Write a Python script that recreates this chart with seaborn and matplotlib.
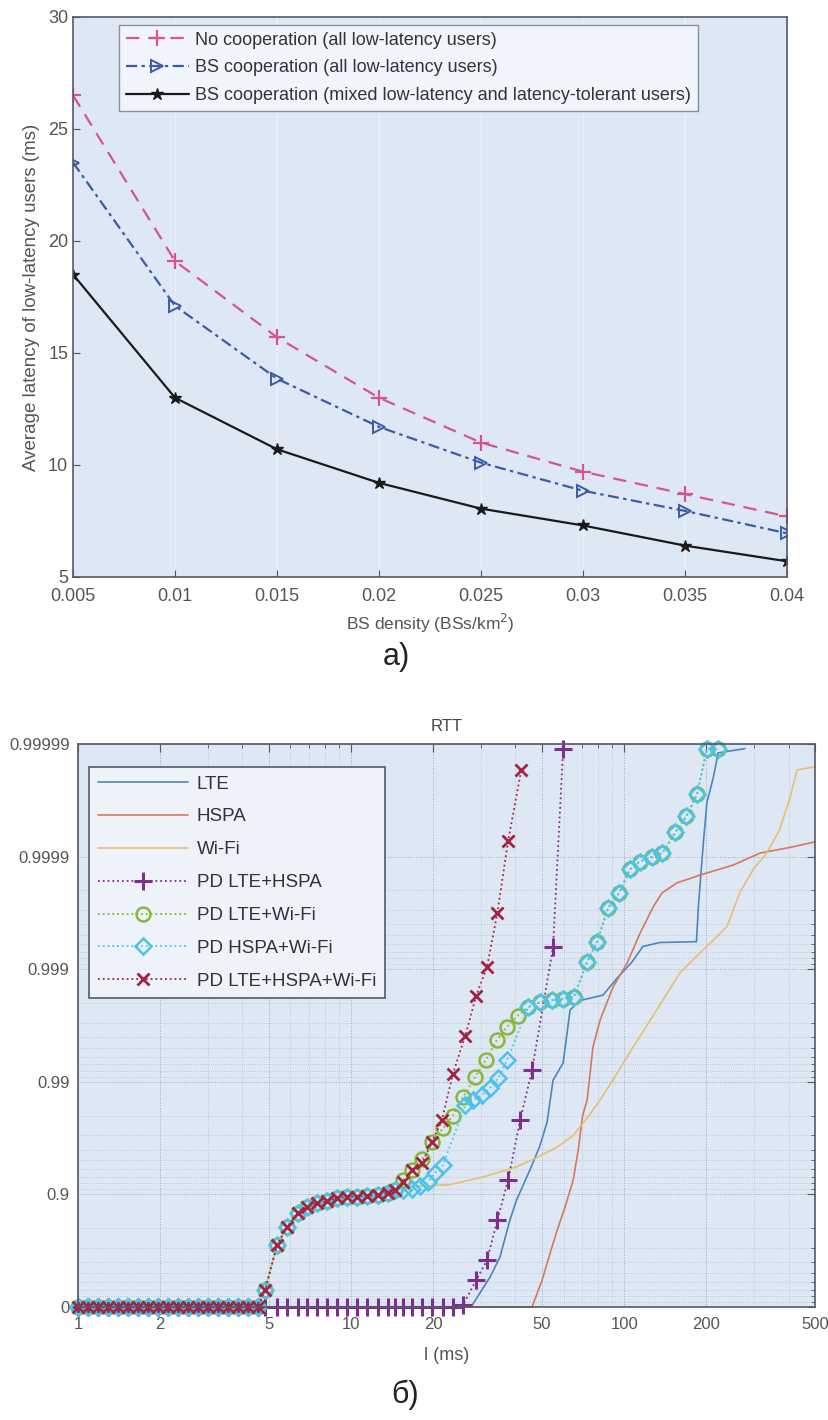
import numpy as np
import matplotlib
matplotlib.use("Agg")
import matplotlib.pyplot as plt
import seaborn as sns
from matplotlib.ticker import FixedLocator, FixedFormatter, NullFormatter

sns.set_style("white")
plt.rcParams['font.family'] = ['Liberation Sans', 'DejaVu Sans']

# ---------------- a) latency vs BS density ----------------
density = [0.005, 0.01, 0.015, 0.02, 0.025, 0.03, 0.035, 0.04]
no_coop = [26.5, 19.1, 15.7, 13.0, 11.0, 9.7, 8.7, 7.7]
bs_coop = [23.5, 17.1, 13.85, 11.7, 10.1, 8.85, 7.95, 6.95]
bs_coop_mixed = [18.5, 13.0, 10.7, 9.2, 8.05, 7.3, 6.4, 5.7]

# ---------------- б) RTT distribution ----------------
# marker positions along the bottom (all PD series at 0)
low_x = [1.0, 1.09, 1.18, 1.29, 1.4, 1.53, 1.66, 1.8, 1.96, 2.14, 2.32, 2.53,
         2.75, 3.0, 3.26, 3.54, 3.86, 4.2, 4.56]
low_p = [0.0] * len(low_x)
# common part of the Wi-Fi based curves
plateau_x = [4.84, 5.36, 5.83, 6.4, 6.9, 7.5, 8.17, 8.9, 9.7, 10.5, 11.4, 12.5, 13.6, 14.5]
plateau_p = [0.29, 0.72, 0.805, 0.854, 0.871, 0.88, 0.885, 0.892, 0.895, 0.895,
             0.897, 0.899, 0.903, 0.909]

lte_x = [1, 27.5, 32.3, 35.1, 38.2, 40.4, 45.2, 49.0, 52.2, 54.9, 59.8, 63.4, 69.0,
         83.7, 94.3, 107, 117, 135, 184, 187, 195, 201, 212, 221, 277]
lte_p = [0, 0, 0.459, 0.64, 0.832, 0.888, 0.9395, 0.9621, 0.977, 0.9903, 0.9932,
         0.9977, 0.9981, 0.9983, 0.9988, 0.99914, 0.99937, 0.99942, 0.99943, 0.99972,
         0.999924, 0.999967, 0.99998, 0.999988, 0.999989]

hspa_x = [1, 46.0, 50.1, 53.6, 56.9, 60.8, 65.1, 67.9, 70.5, 73.2, 76.9, 81.7, 91.1,
          102.6, 114.5, 127.7, 137.7, 156.4, 189.8, 250.8, 315, 415, 500]
hspa_p = [0, 0, 0.424, 0.669, 0.793, 0.871, 0.9255, 0.9597, 0.980, 0.9855, 0.99509,
          0.99718, 0.99856, 0.999119, 0.999523, 0.999719, 0.99979, 0.999829, 0.999854,
          0.999881, 0.999907, 0.999918, 0.999926]

wifi_tail_x = [15.5, 23.0, 30.5, 40.4, 48.0, 56.9, 65.1, 73.2, 81.7, 91.1, 108, 132,
               160, 194, 238, 265, 297, 331, 371, 405, 430, 500]
wifi_tail_p = [0.914, 0.918, 0.930, 0.943, 0.953, 0.962, 0.970, 0.979, 0.9855, 0.9904,
               0.99509, 0.99772, 0.99892, 0.99932, 0.99958, 0.99979, 0.99987, 0.999905,
               0.999942, 0.99997, 0.999983, 0.999984]

pd_lh_tail_x = [15.5, 16.7, 18.2, 19.8, 21.7, 23.6, 25.7, 28.7, 31.5, 34.3, 37.6,
                41.6, 46.0, 54.9, 59.8]
pd_lh_tail_p = [0, 0, 0, 0, 0, 0, 0.04, 0.42, 0.617, 0.83, 0.9255, 0.978, 0.9921,
                0.99936, 0.999989]

pd_lw_tail_x = [15.5, 16.7, 18.2, 19.8, 21.7, 23.6, 25.7, 28.5, 31.2, 34.2, 37.2, 40.8,
                44.5, 49.0, 54.4, 59.8, 65.5, 73.2, 79.6, 87.4, 96, 105, 114, 126, 138,
                154, 169, 185, 201, 221]
pd_lw_tail_p = [0.926, 0.939, 0.951, 0.966, 0.974, 0.980, 0.9863, 0.9910, 0.9936,
                0.99574, 0.99674, 0.99742, 0.99782, 0.99803, 0.99811, 0.99817, 0.99824,
                0.999137, 0.999427, 0.999715, 0.999791, 0.99987, 0.999889, 0.999899,
                0.999907, 0.999939, 0.999956, 0.999972, 0.999989, 0.999989]

pd_hw_tail_x = [15.5, 16.7, 17.9, 19.1, 20.3, 21.7, 26.2, 28.0, 30.2, 32.3, 34.6, 37.3,
                44.5, 49.0, 54.4, 59.8, 65.5, 73.2, 79.6, 87.4, 96, 105, 114, 126, 138,
                154, 169, 185, 201, 221]
pd_hw_tail_p = [0.909, 0.911, 0.915, 0.922, 0.9355, 0.945, 0.9839, 0.9855, 0.9869,
                0.9887, 0.9907, 0.9936, 0.99782, 0.99803, 0.99811, 0.99817, 0.99824,
                0.999137, 0.999427, 0.999715, 0.999791, 0.99987, 0.999889, 0.999899,
                0.999907, 0.999939, 0.999956, 0.999972, 0.999989, 0.999989]

pd_lhw_tail_x = [15.5, 16.7, 18.2, 19.8, 21.5, 23.6, 26.2, 28.7, 31.5, 34.3, 37.6, 42.0]
pd_lhw_tail_p = [0.922, 0.939, 0.947, 0.966, 0.978, 0.9915, 0.9961, 0.99827, 0.99905,
                 0.99968, 0.999927, 0.999983]

rtt_xticks = [1, 2, 5, 10, 20, 50, 100, 200, 500]
rtt_yticks = [0, 0.9, 0.99, 0.999, 0.9999, 0.99999]
rtt_ylabels = ['0', '0.9', '0.99', '0.999', '0.9999', '0.99999']

fig = plt.figure(figsize=(8.29, 14.20), dpi=100)
axis_bg = '#dee8f5'
tick_grey = '#555555'

# ---------- panel a ----------
ax1 = fig.add_axes([0.0881, 0.5937, 0.861, 0.3944])
ax1.set_facecolor(axis_bg)
sns.lineplot(x=density, y=no_coop, ax=ax1, color='#d4558f', linestyle=(0, (6, 4)),
             linewidth=1.6, marker='+', markersize=11, markeredgewidth=1.6,
             markeredgecolor='#d4558f', label='No cooperation (all low-latency users)',
             estimator=None, sort=False, legend=False)
sns.lineplot(x=density, y=bs_coop, ax=ax1, color='#3b5ba8', linestyle=(0, (5, 2, 1.5, 2)),
             linewidth=1.6, marker='>', markersize=9, markeredgewidth=1.4,
             markeredgecolor='#3b5ba8', markerfacecolor='none',
             label='BS cooperation (all low-latency users)',
             estimator=None, sort=False, legend=False)
sns.lineplot(x=density, y=bs_coop_mixed, ax=ax1, color='#1a1a1a', linestyle='-',
             linewidth=1.6, marker='*', markersize=9, markeredgewidth=1.0,
             markeredgecolor='#1a1a1a',
             label='BS cooperation (mixed low-latency and latency-tolerant users)',
             estimator=None, sort=False, legend=False)
ax1.set_xlim(0.005, 0.04)
ax1.set_ylim(5, 30)
ax1.set_xticks(density)
ax1.set_xticklabels(['0.005', '0.01', '0.015', '0.02', '0.025', '0.03', '0.035', '0.04'])
ax1.set_yticks([5, 10, 15, 20, 25, 30])
ax1.grid(axis='x', color='#eaf0f8', linewidth=1.0)
ax1.tick_params(direction='in', length=5, labelsize=13, colors=tick_grey,
                bottom=True, left=True)
ax1.tick_params(axis='x', pad=8)
for s in ax1.spines.values():
    s.set_color('#555a62')
    s.set_linewidth(1.2)
ax1.set_xlabel('BS density (BSs/km$^2$)', fontsize=12.5, color=tick_grey, labelpad=5)
ax1.set_ylabel('Average latency of low-latency users (ms)', fontsize=13.5,
               color=tick_grey, labelpad=6)
leg1 = ax1.legend(loc='upper left', bbox_to_anchor=(0.064, 0.986), fontsize=13,
                  frameon=True, fancybox=False, edgecolor='#8a8f99', facecolor='#f1f5fb',
                  framealpha=1, handlelength=3.5, labelspacing=0.6, borderpad=0.38,
                  handletextpad=0.35, borderaxespad=0)
for t in leg1.get_texts():
    t.set_color('#333333')
fig.text(0.478, 1 - 657 / 1420, 'a)', fontsize=22, ha='center', va='center',
         color='#222222')

# ---------- panel б ----------
def fwd(p):
    return -np.log10(np.clip(1 - np.asarray(p, dtype=float), 1e-12, None))


def inv(t):
    return 1 - 10 ** (-np.asarray(t, dtype=float))


ax2 = fig.add_axes([0.0941, 0.0796, 0.889, 0.3965])
ax2.set_facecolor(axis_bg)

series = [
    (lte_x, lte_p, 'LTE', dict(color='#4a86c0', linestyle='-', linewidth=1.2)),
    (hspa_x, hspa_p, 'HSPA', dict(color='#d9775a', linestyle='-', linewidth=1.2)),
    (low_x[:1] + [4.52] + plateau_x + wifi_tail_x, [0, 0] + plateau_p + wifi_tail_p,
     'Wi-Fi', dict(color='#e5c070', linestyle='-', linewidth=1.2)),
    (low_x + plateau_x + pd_lh_tail_x, low_p + [0.0] * len(plateau_x) + pd_lh_tail_p,
     'PD LTE+HSPA', dict(color='#7e2f8e', linestyle=':', linewidth=1.3, marker='+',
                         markersize=13, markeredgewidth=2.2, markeredgecolor='#7e2f8e')),
    (low_x + plateau_x + pd_lw_tail_x, low_p + plateau_p + pd_lw_tail_p,
     'PD LTE+Wi-Fi', dict(color='#86b83c', linestyle=':', linewidth=1.3, marker='o',
                          markersize=10, markeredgewidth=1.8, markeredgecolor='#86b83c',
                          markerfacecolor='none')),
    (low_x + plateau_x + pd_hw_tail_x, low_p + plateau_p + pd_hw_tail_p,
     'PD HSPA+Wi-Fi', dict(color='#4cc3e8', linestyle=':', linewidth=1.3, marker='D',
                           markersize=8.5, markeredgewidth=1.8, markeredgecolor='#4cc3e8',
                           markerfacecolor='none')),
    (low_x + plateau_x + pd_lhw_tail_x, low_p + plateau_p + pd_lhw_tail_p,
     'PD LTE+HSPA+Wi-Fi', dict(color='#a2243f', linestyle=':', linewidth=1.3, marker='x',
                               markersize=8, markeredgewidth=2.0, markeredgecolor='#a2243f')),
]
for xs, ps, name, kw in series:
    sns.lineplot(x=xs, y=ps, ax=ax2, label=name, estimator=None, sort=False,
                 legend=False, clip_on=False, **kw)

ax2.set_xscale('log')
ax2.set_yscale('function', functions=(fwd, inv))
ax2.set_xlim(1, 500)
ax2.set_ylim(0, 0.99999)
ax2.xaxis.set_major_locator(FixedLocator(rtt_xticks))
ax2.xaxis.set_major_formatter(FixedFormatter([str(v) for v in rtt_xticks]))
minor_x = [m * 10 ** d for d in range(0, 3) for m in range(2, 10) if m * 10 ** d < 500]
ax2.xaxis.set_minor_locator(FixedLocator(minor_x))
ax2.xaxis.set_minor_formatter(NullFormatter())
ax2.yaxis.set_major_locator(FixedLocator(rtt_yticks))
ax2.yaxis.set_major_formatter(FixedFormatter(rtt_ylabels))
minor_y = [1 - k * 10.0 ** (-d) for d in range(0, 5) for k in range(2, 10)]
ax2.yaxis.set_minor_locator(FixedLocator(minor_y))
ax2.yaxis.set_minor_formatter(NullFormatter())
ax2.grid(which='major', linestyle=':', color='#8c97a8', linewidth=0.7, alpha=0.8)
ax2.grid(which='minor', linestyle=':', color='#a6b0bf', linewidth=0.6, alpha=0.7)
ax2.set_axisbelow(True)
ax2.tick_params(which='both', direction='in', top=True, right=True, colors=tick_grey,
                labelsize=12)
ax2.tick_params(which='major', length=6)
ax2.tick_params(which='minor', length=3)
ax2.tick_params(axis='x', which='major', pad=7)
ax2.tick_params(axis='y', which='major', pad=6)
for s in ax2.spines.values():
    s.set_color('#555a62')
    s.set_linewidth(1.2)
ax2.set_title('RTT', fontsize=12, color='#444444', pad=9)
ax2.set_xlabel('l (ms)', fontsize=13, color=tick_grey, labelpad=11)
leg2 = ax2.legend(loc='upper left', bbox_to_anchor=(0.015, 0.959), fontsize=13.5,
                  frameon=True, fancybox=False, edgecolor='#555a62', facecolor='#eef3fa',
                  framealpha=1, handlelength=4.8, labelspacing=0.84, borderpad=0.45,
                  handletextpad=0.5, borderaxespad=0)
leg2.get_frame().set_linewidth(1.2)
for t in leg2.get_texts():
    t.set_color('#333333')
fig.text(0.489, 1 - 1395 / 1420, 'б)', fontsize=22, ha='center', va='center',
         color='#222222')

fig.savefig('out.png', dpi=100)
